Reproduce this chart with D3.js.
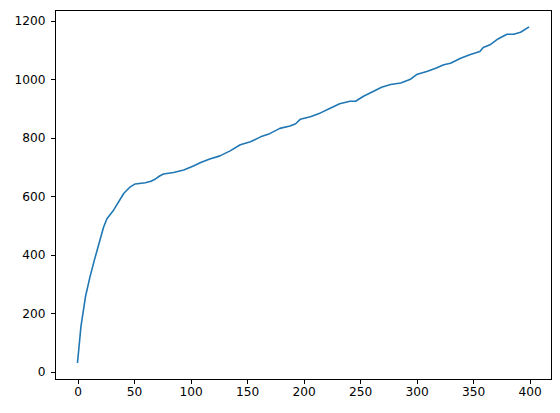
<!DOCTYPE html>
<html>
<head>
<meta charset="utf-8">
<script src="https://cdn.jsdelivr.net/npm/d3@7"></script>
<style>
  html, body { margin: 0; padding: 0; background: #fff; }
  svg { display: block; }
  .tick text { font-family: "DejaVu Sans", sans-serif; font-size: 12.2px; fill: #000; }
</style>
</head>
<body>
<svg id="chart" width="560" height="413"></svg>
<script>
const xValues = [0, 3, 7, 11, 15, 19, 23, 26, 32, 41, 46, 51, 60, 65, 69, 73, 76, 85, 94, 103, 109, 117, 126, 135, 144, 153, 162, 170, 179, 188, 193, 197, 206, 215, 224, 232, 241, 246, 253, 262, 269, 277, 286, 294, 297, 300, 309, 317, 324, 330, 339, 347, 356, 359, 365, 372, 380, 386, 392, 399];
const yValues = [32, 154, 256, 324, 383, 438, 494, 523, 553, 610, 630, 642, 646, 651, 659, 670, 676, 681, 690, 704, 715, 727, 738, 755, 776, 786, 803, 814, 832, 840, 848, 863, 872, 885, 902, 916, 925, 925, 942, 959, 973, 982, 987, 999, 1007, 1016, 1027, 1038, 1050, 1055, 1072, 1084, 1095, 1109, 1118, 1138, 1154, 1154, 1161, 1178];
const xTicks = [0, 50, 100, 150, 200, 250, 300, 350, 400];
const yTicks = [0, 200, 400, 600, 800, 1000, 1200];

const margin = { left: 55, right: 9, top: 10.5, bottom: 34 };
const W = 560, H = 413;
const svg = d3.select("#chart");

const xMin = d3.min(xValues), xMax = d3.max(xValues);
const yMin = d3.min(yValues), yMax = d3.max(yValues);
const xPad = (xMax - xMin) * 0.05, yPad = (yMax - yMin) * 0.05;

const x = d3.scaleLinear().domain([xMin - xPad, xMax + xPad]).range([margin.left, W - margin.right]);
const y = d3.scaleLinear().domain([yMin - yPad, yMax + yPad]).range([H - margin.bottom, margin.top]);

const data = xValues.map((v, i) => ({ x: v, y: yValues[i] }));

svg.append("path")
  .datum(data)
  .attr("fill", "none")
  .attr("stroke", "#1f77b4")
  .attr("stroke-width", 1.6)
  .attr("stroke-linejoin", "round")
  .attr("stroke-linecap", "square")
  .attr("d", d3.line().x(d => x(d.x)).y(d => y(d.y)));

const fmt = d3.format("d");
const xAxis = svg.append("g")
  .attr("transform", `translate(0,${H - margin.bottom})`)
  .call(d3.axisBottom(x).tickValues(xTicks).tickFormat(fmt).tickSize(4.5).tickPadding(4).tickSizeOuter(0));
const yAxis = svg.append("g")
  .attr("transform", `translate(${margin.left},0)`)
  .call(d3.axisLeft(y).tickValues(yTicks).tickFormat(fmt).tickSize(4.5).tickPadding(5).tickSizeOuter(0));

[xAxis, yAxis].forEach(g => {
  g.select(".domain").remove();
  g.selectAll(".tick line").attr("stroke", "#000").attr("stroke-width", 1).attr("shape-rendering", "crispEdges");
});

svg.append("rect")
  .attr("x", margin.left)
  .attr("y", margin.top)
  .attr("width", W - margin.left - margin.right)
  .attr("height", H - margin.top - margin.bottom)
  .attr("fill", "none")
  .attr("stroke", "#000")
  .attr("stroke-width", 1)
  .attr("shape-rendering", "crispEdges");
</script>
</body>
</html>
